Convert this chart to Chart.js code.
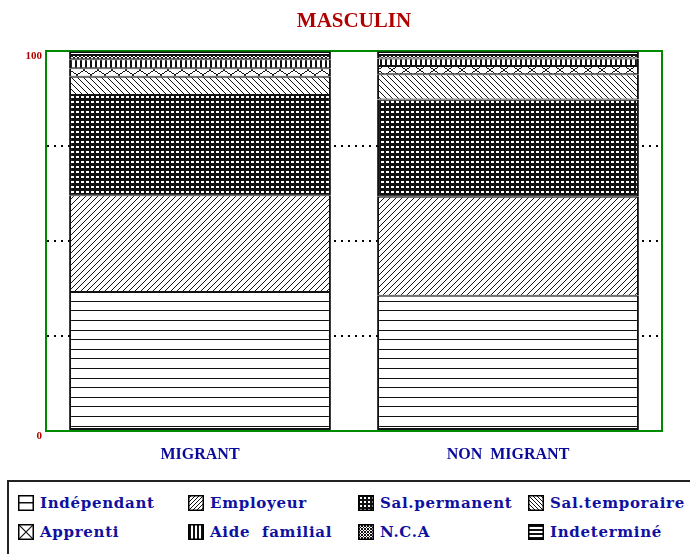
<!DOCTYPE html>
<html>
<head>
<meta charset="utf-8">
<script src="https://cdn.jsdelivr.net/npm/chart.js@4"></script>
<style>
  html, body { margin: 0; padding: 0; background: #fff; overflow: hidden; }
  #wrap { position: relative; width: 690px; height: 554px; }
  #c { position: absolute; left: 0; top: 0; }
  #legend { position: absolute; left: 7px; top: 480px; width: 700px; height: 100px;
            border: 2px solid #222; box-sizing: border-box; }
  .item { position: absolute; height: 16px; display: flex; align-items: center; }
  .item canvas { width: 16px; height: 16px; display: block; }
  .item span { margin-left: 6px; font-family: "DejaVu Serif", serif; font-weight: bold;
               font-size: 15px; color: #1010a0; letter-spacing: 0.7px; white-space: pre; }
</style>
</head>
<body>
<div id="wrap">
  <canvas id="c" width="690" height="478"></canvas>
  <div id="legend"></div>
</div>
<script>
// ---- data ----
const title = 'MASCULIN';
const categories = ['MIGRANT', 'NON  MIGRANT'];
const seriesNames = ['Indépendant', 'Employeur', 'Sal.permanent', 'Sal.temporaire',
                     'Apprenti', 'Aide  familial', 'N.C.A', 'Indeterminé'];
const migrant    = [36.6, 25.5, 26.4, 4.8, 2.2, 2.4, 1.1, 1.0];
const nonMigrant = [35.6, 26.1, 25.6, 6.6, 2.2, 2.0, 0.9, 1.0];
const yTickLabels = [0, 100];

// ---- patterns ----
const canvas = document.getElementById('c');
const ctx = canvas.getContext('2d');
const INK = '#111';

function tile(w, h, draw) {
  const t = document.createElement('canvas');
  t.width = w; t.height = h;
  const g = t.getContext('2d');
  g.fillStyle = '#fff'; g.fillRect(0, 0, w, h);
  g.fillStyle = INK;
  draw(g, w, h);
  return ctx.createPattern(t, 'repeat');
}
const patterns = [
  // Indépendant: sparse horizontal lines
  tile(8, 48, g => { [3, 13, 22, 32, 42].forEach(y => g.fillRect(0, y, 8, 1)); }),
  // Employeur: "/" hatch
  tile(6, 6, g => { for (let i = 0; i < 6; i++) g.fillRect(i, 5 - i, 1, 1); }),
  // Sal.permanent: dense black grid
  tile(5, 5, g => { g.fillRect(0, 0, 5, 5); g.fillStyle = '#fff'; g.fillRect(1, 1, 3, 2); }),
  // Sal.temporaire: "\" hatch
  tile(6, 6, g => { for (let i = 0; i < 6; i++) g.fillRect(i, i, 1, 1); }),
  // Apprenti: large X
  tile(14, 10, g => { for (let i = 0; i < 14; i++) { const y = Math.round(i * 9 / 13); g.fillRect(i, y, 1, 1); g.fillRect(i, 9 - y, 1, 1); } }),
  // Aide familial: vertical bars
  tile(5, 2, g => { g.fillRect(0, 0, 2, 2); }),
  // N.C.A: small crosshatch
  tile(4, 4, g => { for (let i = 0; i < 4; i++) { g.fillRect(i, i, 1, 1); g.fillRect(i, 3 - i, 1, 1); } }),
  // Indeterminé: dense horizontal lines
  tile(4, 2, g => { g.fillRect(0, 0, 4, 1); })
];

// ---- legend swatches ----
const swatchDraw = [
  g => { g.fillRect(0, 7, 16, 1.5); },
  g => { g.lineWidth = 1; for (let k = -16; k < 32; k += 4) { g.beginPath(); g.moveTo(k, 16); g.lineTo(k + 16, 0); g.stroke(); } },
  g => { g.fillRect(0, 0, 16, 16); g.fillStyle = '#fff'; for (let x = 2; x < 15; x += 4) for (let y = 2; y < 15; y += 4) g.fillRect(x, y, 2, 2); },
  g => { g.lineWidth = 1; for (let k = -16; k < 32; k += 4) { g.beginPath(); g.moveTo(k, 0); g.lineTo(k + 16, 16); g.stroke(); } },
  g => { g.lineWidth = 1.2; g.beginPath(); g.moveTo(0, 0); g.lineTo(16, 16); g.moveTo(16, 0); g.lineTo(0, 16); g.stroke(); },
  g => { for (let x = 1; x < 16; x += 4) g.fillRect(x, 0, 2, 16); },
  g => { g.lineWidth = 1; for (let k = -16; k < 32; k += 3) { g.beginPath(); g.moveTo(k, 16); g.lineTo(k + 16, 0); g.moveTo(k, 0); g.lineTo(k + 16, 16); g.stroke(); } },
  g => { for (let y = 1; y < 16; y += 4) g.fillRect(0, y, 16, 2); }
];

// ---- chart ----
const datasets = seriesNames.map((name, i) => ({
  label: name,
  data: [migrant[i], nonMigrant[i]],
  backgroundColor: patterns[i],
  borderColor: '#111',
  borderWidth: { left: 2, right: 2, top: i === seriesNames.length - 1 ? 2 : 1, bottom: i === 0 ? 2 : 1 },
  borderSkipped: false,
  categoryPercentage: 1.0,
  barPercentage: 0.85
}));

const GREEN = '#008a00';

const chart = new Chart(ctx, {
  type: 'bar',
  data: { labels: categories, datasets },
  options: {
    responsive: false,
    animation: false,
    devicePixelRatio: 1,
    layout: { padding: { left: 0, right: 28, top: 0, bottom: 0 } },
    plugins: {
      legend: { display: false },
      tooltip: { enabled: false },
      title: {
        display: true, text: title, fullSize: false,
        color: '#b00000',
        font: { family: '"Liberation Serif", serif', size: 21, weight: 'bold', lineHeight: 1.2 },
        padding: { top: 9, bottom: 17 }
      }
    },
    scales: {
      x: {
        stacked: true,
        grid: { display: false },
        border: { display: true, color: GREEN, width: 2 },
        ticks: {
          color: '#0a0a9a', padding: 6,
          font: { family: '"Liberation Serif", serif', size: 16, weight: 'bold' }
        },
        afterFit: s => { s.height = 47; }
      },
      y: {
        stacked: true, min: 0, max: 100,
        grid: {
          drawTicks: false, lineWidth: 2,
          color: c => (c.tick && (c.tick.value === 0 || c.tick.value === 100)) ? 'rgba(0,0,0,0)' : '#000'
        },
        border: { display: true, color: GREEN, width: 2, dash: [2, 5] },
        ticks: {
          stepSize: 25, padding: 4, labelOffset: 5,
          color: '#b00000',
          font: { family: '"Liberation Serif", serif', size: 11, weight: 'bold' },
          callback: v => yTickLabels.includes(v) ? String(v) : ''
        },
        afterFit: s => { s.width = 46; }
      },
      frameTop: {
        type: 'linear', position: 'top', display: true,
        grid: { display: false }, ticks: { display: false },
        border: { display: true, color: GREEN, width: 2 },
        afterFit: s => { s.height = 0; }
      },
      frameRight: {
        type: 'linear', position: 'right', display: true,
        grid: { display: false }, ticks: { display: false },
        border: { display: true, color: GREEN, width: 2 },
        afterFit: s => { s.width = 0; }
      }
    }
  }
});

// ---- HTML legend built from the chart's datasets ----
const legend = document.getElementById('legend');
chart.data.datasets.forEach((ds, i) => {
  const col = i % 4, row = Math.floor(i / 4);
  const item = document.createElement('div');
  item.className = 'item';
  item.style.left = (18 + col * 170 - 9) + 'px';
  item.style.top = (495 + row * 29 - 482) + 'px';
  const sw = document.createElement('canvas');
  sw.width = 16; sw.height = 16;
  const g = sw.getContext('2d');
  g.fillStyle = '#fff'; g.fillRect(0, 0, 16, 16);
  g.fillStyle = INK; g.strokeStyle = INK;
  g.save(); swatchDraw[i](g); g.restore();
  g.strokeStyle = '#000'; g.lineWidth = 1.5; g.strokeRect(0.75, 0.75, 14.5, 14.5);
  const t = document.createElement('span');
  t.textContent = ds.label;
  item.appendChild(sw); item.appendChild(t);
  legend.appendChild(item);
});
</script>
</body>
</html>
